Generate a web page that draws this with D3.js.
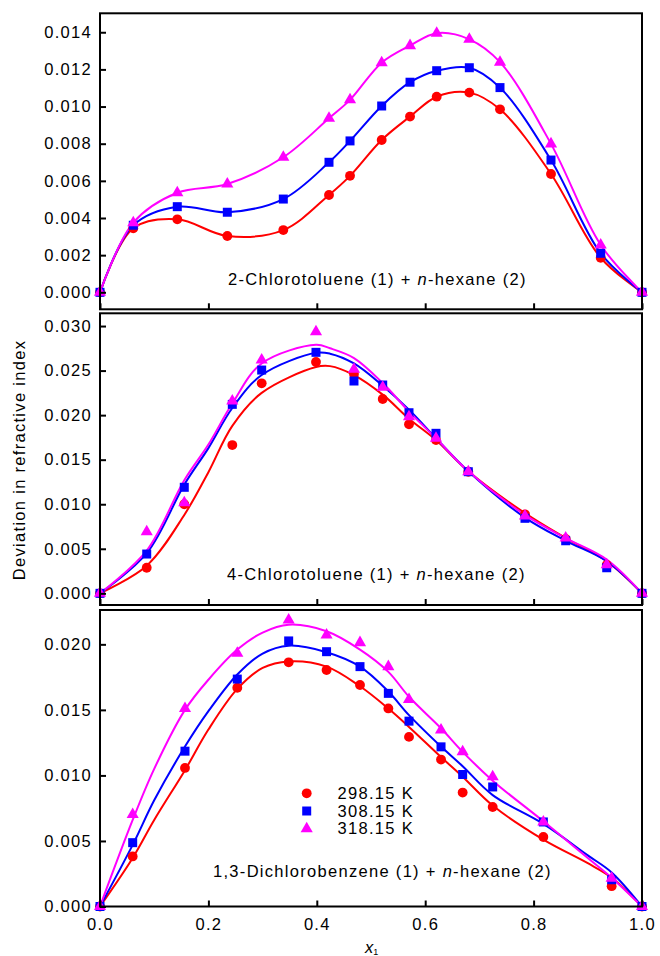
<!DOCTYPE html>
<html>
<head>
<meta charset="utf-8">
<script src="https://cdn.jsdelivr.net/npm/d3@7"></script>
<style>
  body { margin: 0; background: #fff; }
  text { font-family: "Liberation Sans", Arial, Helvetica, sans-serif; }
</style>
</head>
<body>
<script>
var width = 660;
var height = 956;

var temps = ['298.15 K', '308.15 K', '318.15 K'];
var colors = ['#ff0000', '#0000ff', '#ff00ff'];

// panel 1: 2-chlorotoluene + n-hexane
var x1Top = [0, 0.0614, 0.1426, 0.2349, 0.3382, 0.4225, 0.4613, 0.5197, 0.5720, 0.6212, 0.6814, 0.7380, 0.8321, 0.9238, 1.0];
var redTop = [0, 0.00345, 0.00393, 0.00303, 0.00335, 0.00524, 0.00627, 0.00820, 0.00946, 0.01053, 0.01075, 0.00985, 0.00637, 0.00186, 0];
var blueTop = [0, 0.00361, 0.00461, 0.00431, 0.00502, 0.00700, 0.00815, 0.01003, 0.01131, 0.01193, 0.01209, 0.01102, 0.00712, 0.00210, 0];
var magTop = [0, 0.00375, 0.00536, 0.00583, 0.00727, 0.00937, 0.01036, 0.01236, 0.01328, 0.01395, 0.01362, 0.01239, 0.00799, 0.00255, 0];

// panel 2: 4-chlorotoluene + n-hexane
var x1Mid = [0, 0.0862, 0.1555, 0.2441, 0.2983, 0.3985, 0.4686, 0.5216, 0.5701, 0.6199, 0.6795, 0.7841, 0.8592, 0.9349, 1.0];
var redMid = [0, 0.00287, 0.01000, 0.01664, 0.02357, 0.02596, 0.02461, 0.02181, 0.01897, 0.01720, 0.01365, 0.00887, 0.00610, 0.00318, 0];
var blueMid = [0, 0.00441, 0.01190, 0.02121, 0.02506, 0.02705, 0.02383, 0.02338, 0.02027, 0.01796, 0.01365, 0.00842, 0.00590, 0.00287, 0];
var magMid = [0, 0.00692, 0.01017, 0.02158, 0.02618, 0.02936, 0.02514, 0.02312, 0.01982, 0.01740, 0.01365, 0.00868, 0.00620, 0.00320, 0];
var fitXMid = [0, 0.0862, 0.1555, 0.2, 0.2441, 0.2983, 0.3985, 0.4244, 0.4686, 0.5216, 0.5701, 0.6199, 0.6795, 0.7841, 0.8592, 0.9349, 1.0];
var redMidFit = [0, 0.0031, 0.0088, 0.0136, 0.0188, 0.0225, 0.0254, 0.0255, 0.0245, 0.0223, 0.0196, 0.0172, 0.0137, 0.0090, 0.0062, 0.0036, 0];
var blueMidFit = [0, 0.0045, 0.0122, 0.0163, 0.0208, 0.0245, 0.0270, 0.0269, 0.0258, 0.0233, 0.0206, 0.0174, 0.0137, 0.0085, 0.0059, 0.0036, 0];
var magMidFit = [0, 0.0048, 0.0127, 0.0167, 0.0213, 0.0258, 0.0279, 0.0275, 0.0264, 0.0236, 0.0204, 0.0174, 0.0137, 0.0088, 0.0062, 0.0038, 0];

// panel 3: 1,3-dichlorobenzene + n-hexane
var x1Bot = [0, 0.0603, 0.1568, 0.2533, 0.3481, 0.4180, 0.4797, 0.5320, 0.5701, 0.6292, 0.6691, 0.7245, 0.8180, 0.9440, 1.0];
var redBot = [0, 0.00382, 0.01057, 0.01669, 0.01863, 0.01804, 0.01690, 0.01511, 0.01294, 0.01121, 0.00869, 0.00759, 0.00530, 0.00155, 0];
var blueBot = [0, 0.00487, 0.01185, 0.01735, 0.02026, 0.01944, 0.01830, 0.01626, 0.01414, 0.01218, 0.01007, 0.00912, 0.00645, 0.00204, 0];
var magBot = [0, 0.00701, 0.01511, 0.01932, 0.02186, 0.02072, 0.02013, 0.01830, 0.01580, 0.01346, 0.01180, 0.00989, 0.00645, 0.00216, 0];
var fitXBot = [0, 0.0603, 0.1, 0.1568, 0.2, 0.2533, 0.3, 0.3481, 0.418, 0.4797, 0.532, 0.5701, 0.6292, 0.6691, 0.7245, 0.818, 0.9, 0.944, 1.0];
var redBotFit = [0, 0.0037, 0.0066, 0.0104, 0.0135, 0.0166, 0.0182, 0.0187, 0.0183, 0.0168, 0.0151, 0.0137, 0.0114, 0.0099, 0.0077, 0.0051, 0.0033, 0.0022, 0];
var blueBotFit = [0, 0.0047, 0.0081, 0.0122, 0.0149, 0.0177, 0.0193, 0.0199, 0.0194, 0.0183, 0.0164, 0.0146, 0.0122, 0.0107, 0.0085, 0.0063, 0.0039, 0.0026, 0];
var magBotFit = [0, 0.0066, 0.0105, 0.0150, 0.0173, 0.0196, 0.0209, 0.0215, 0.0210, 0.0196, 0.0179, 0.0160, 0.0136, 0.0118, 0.0096, 0.0065, 0.0037, 0.0022, 0];

var xTicks = [0, 0.2, 0.4, 0.6, 0.8, 1.0];
var yTicksTop = [0, 0.002, 0.004, 0.006, 0.008, 0.010, 0.012, 0.014];
var yTicksMid = [0, 0.005, 0.010, 0.015, 0.020, 0.025, 0.030];
var yTicksBot = [0, 0.005, 0.010, 0.015, 0.020];

var svg = d3.select('body').append('svg')
  .attr('width', width)
  .attr('height', height);

var x = d3.scaleLinear().domain([0, 1]).range([100, 642]);

var symbols = [d3.symbolCircle, d3.symbolSquare, d3.symbolTriangle];
var symbolSizes = [76, 81, 64];

function zip(xs, ys) {
  return xs.map(function(v, i) { return [v, ys[i]]; });
}

function drawPanel(top, bottom, yDomain, yTicks, xs, series, fitXs, fits, showXLabels) {
  var y = d3.scaleLinear().domain(yDomain).range([bottom, top]);
  var g = svg.append('g');

  var line = d3.line()
    .x(function(d) { return x(d[0]); })
    .y(function(d) { return y(d[1]); })
    .curve(d3.curveCatmullRom.alpha(0.5));

  for (var i = 0; i < 3; i++) {
    g.append('path')
      .datum(zip(fitXs, fits[i]))
      .attr('d', line)
      .attr('fill', 'none')
      .attr('stroke', colors[i])
      .attr('stroke-width', 2);
  }
  for (var i = 0; i < 3; i++) {
    g.selectAll('.m' + i)
      .data(zip(xs, series[i]))
      .enter().append('path')
      .attr('transform', function(d) { return 'translate(' + x(d[0]) + ',' + y(d[1]) + ')'; })
      .attr('d', d3.symbol().type(symbols[i]).size(symbolSizes[i]))
      .attr('fill', colors[i]);
  }

  var yAxis = g.append('g')
    .attr('transform', 'translate(100,0)')
    .call(d3.axisLeft(y).tickValues(yTicks).tickFormat(d3.format('.3f'))
      .tickSizeInner(-6).tickSizeOuter(0).tickPadding(8));
  var xAxis = g.append('g')
    .attr('transform', 'translate(0,' + bottom + ')')
    .call(d3.axisBottom(x).tickValues(xTicks).tickFormat(d3.format('.1f'))
      .tickSizeInner(-6).tickSizeOuter(0).tickPadding(12));
  [yAxis, xAxis].forEach(function(a) {
    a.select('.domain').remove();
    a.selectAll('line').attr('stroke', '#000').attr('stroke-width', 2);
    a.selectAll('text')
      .attr('font-family', '"Liberation Sans", Arial, sans-serif')
      .attr('font-size', 16.5)
      .attr('fill', '#000')
      .style('letter-spacing', '1.3px');
  });
  if (!showXLabels) xAxis.selectAll('text').remove();

  g.append('rect')
    .attr('x', 100).attr('y', top)
    .attr('width', 542).attr('height', bottom - top)
    .attr('fill', 'none')
    .attr('stroke', '#000')
    .attr('stroke-width', 2);
  return g;
}

function addCaption(g, cx, by, name) {
  var t = g.append('text')
    .attr('x', cx).attr('y', by)
    .attr('font-size', 16.5)
    .attr('fill', '#000')
    .style('letter-spacing', '1.3px');
  t.append('tspan').text(name + ' (1) + ');
  t.append('tspan').attr('font-style', 'italic').text('n');
  t.append('tspan').text('-hexane (2)');
}

var p1 = drawPanel(13.3, 309.3, [-0.000915, 0.01502], yTicksTop, x1Top,
  [redTop, blueTop, magTop], x1Top, [redTop, blueTop, magTop], false);
addCaption(p1, 228, 285, '2-Chlorotoluene');

var p2 = drawPanel(313.3, 605, [-0.00131, 0.03143], yTicksMid, x1Mid,
  [redMid, blueMid, magMid], fitXMid, [redMidFit, blueMidFit, magMidFit], false);
addCaption(p2, 227, 580, '4-Chlorotoluene');

var p3 = drawPanel(610, 906.5, [0, 0.02262], yTicksBot, x1Bot,
  [redBot, blueBot, magBot], fitXBot, [redBotFit, blueBotFit, magBotFit], true);
addCaption(p3, 213, 877, '1,3-Dichlorobenzene');

// legend
temps.forEach(function(t, i) {
  var ly = 793.3 + i * 17.7;
  svg.append('path')
    .attr('transform', 'translate(306.7,' + ly + ')')
    .attr('d', d3.symbol().type(symbols[i]).size(symbolSizes[i]))
    .attr('fill', colors[i]);
  svg.append('text')
    .attr('x', 337.5).attr('y', ly + 5.5)
    .attr('font-size', 16.5)
    .attr('fill', '#000')
    .style('letter-spacing', '1.3px')
    .text(t);
});

// axis titles
svg.append('text')
  .attr('transform', 'translate(25,460) rotate(-90)')
  .attr('text-anchor', 'middle')
  .attr('font-size', 16.5)
  .attr('fill', '#000')
  .style('letter-spacing', '1.3px')
  .text('Deviation in refractive index');

var xt = svg.append('text')
  .attr('x', 365).attr('y', 953)
  .attr('font-size', 16.5)
  .attr('fill', '#000');
xt.append('tspan').attr('font-style', 'italic').text('x');
xt.append('tspan').attr('font-size', 9).attr('dy', 2).text('1');
</script>
</body>
</html>
